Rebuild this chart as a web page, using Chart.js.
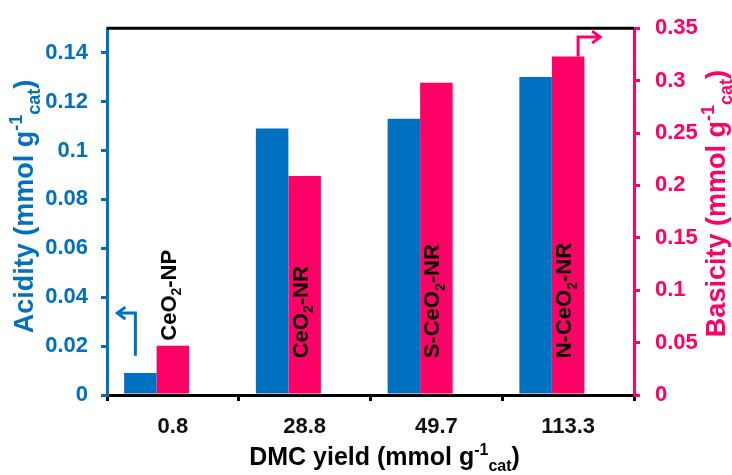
<!DOCTYPE html>
<html>
<head>
<meta charset="utf-8">
<script src="https://cdn.jsdelivr.net/npm/chart.js@4.4.1/dist/chart.umd.min.js"></script>
<style>
  html, body { margin: 0; padding: 0; background: #fff; }
  #wrap { width: 732px; height: 475px; }
</style>
</head>
<body>
<div id="wrap"><canvas id="c" width="732" height="475"></canvas></div>
<script>
const categories = ['0.8', '28.8', '49.7', '113.3'];
const samples = ['CeO|2|-NP', 'CeO|2|-NR', 'S-CeO|2|-NR', 'N-CeO|2|-NR'];
const acidity = [0.009, 0.109, 0.113, 0.130];
const basicity = [0.047, 0.209, 0.298, 0.323];
const acidTicks = [0, 0.02, 0.04, 0.06, 0.08, 0.1, 0.12, 0.14];
const baseTicks = [0, 0.05, 0.1, 0.15, 0.2, 0.25, 0.3, 0.35];

const BLUE = '#0070C0';
const PINK = '#FF0066';
const FONT = 'Liberation Sans, Arial, sans-serif';

// measure rich text made of [text, kind] parts, kind '' | 'sup' | 'sub'
function measureRich(ctx, parts, size) {
  const small = Math.round(size * 0.65);
  ctx.save();
  const widths = parts.map(([t, k]) => {
    ctx.font = `bold ${k ? small : size}px ${FONT}`;
    return ctx.measureText(t).width;
  });
  ctx.restore();
  return widths;
}

function paintRich(ctx, parts, widths, startX, size) {
  const small = Math.round(size * 0.65);
  let cx = startX;
  parts.forEach(([t, k], i) => {
    ctx.font = `bold ${k ? small : size}px ${FONT}`;
    const dy = k === 'sup' ? -size * 0.42 : k === 'sub' ? size * 0.25 : 0;
    ctx.fillText(t, cx, dy);
    cx += widths[i];
  });
}

// vertical text, reading bottom to top
function drawRich(ctx, parts, x, y, size, color, align) {
  const widths = measureRich(ctx, parts, size);
  const total = widths.reduce((a, b) => a + b, 0);
  ctx.save();
  ctx.fillStyle = color;
  ctx.textBaseline = 'alphabetic';
  ctx.textAlign = 'left';
  ctx.translate(x, y);
  ctx.rotate(-Math.PI / 2);
  paintRich(ctx, parts, widths, align === 'start' ? 0 : -total / 2, size);
  ctx.restore();
  return total;
}

function drawRichFlat(ctx, parts, x, y, size, color) {
  const widths = measureRich(ctx, parts, size);
  const total = widths.reduce((a, b) => a + b, 0);
  ctx.save();
  ctx.fillStyle = color;
  ctx.textBaseline = 'alphabetic';
  ctx.textAlign = 'left';
  ctx.translate(x, y);
  paintRich(ctx, parts, widths, -total / 2, size);
  ctx.restore();
}

function sampleParts(s) {
  const [a, b, c] = s.split('|');
  return [[a, ''], [b, 'sub'], [c, '']];
}

function unitParts(name) {
  return [[name + ' (mmol g', ''], ['-1', 'sup'], ['cat', 'sub'], [')', '']];
}

function arrow(ctx, pts, color) {
  ctx.save();
  ctx.strokeStyle = color;
  ctx.lineWidth = 3;
  ctx.beginPath();
  ctx.moveTo(pts[0][0], pts[0][1]);
  pts.slice(1).forEach(p => ctx.lineTo(p[0], p[1]));
  ctx.stroke();
  const [ax, ay] = pts[pts.length - 1];
  const dir = Math.sign(ax - pts[pts.length - 2][0]);
  ctx.beginPath();
  ctx.moveTo(ax - dir * 8, ay - 6);
  ctx.lineTo(ax, ay);
  ctx.lineTo(ax - dir * 8, ay + 6);
  ctx.stroke();
  ctx.restore();
}

const decorations = {
  id: 'decorations',
  afterDraw(chart) {
    const ctx = chart.ctx;
    const { left, right, top, bottom } = chart.chartArea;
    const y = chart.scales.y, y1 = chart.scales.y1;
    const blueBars = chart.getDatasetMeta(0).data;
    const pinkBars = chart.getDatasetMeta(1).data;

    // top frame line
    ctx.save();
    ctx.strokeStyle = '#000';
    ctx.lineWidth = 3;
    ctx.beginPath();
    ctx.moveTo(left, top);
    ctx.lineTo(right, top);
    ctx.stroke();
    ctx.restore();

    // sample names: inside the pink bar when it fits, otherwise just above it
    pinkBars.forEach((bar, i) => {
      const parts = sampleParts(samples[i]);
      const len = measureRich(ctx, parts, 22).reduce((a, b) => a + b, 0);
      const inside = y1.getPixelForValue(0.035);
      const start = bar.y < inside - len - 8 ? inside : bar.y - 5;
      drawRich(ctx, parts, bar.x + 3, start, 22, '#000', 'start');
    });

    // axis arrows
    const b0 = blueBars[0];
    arrow(ctx, [[b0.x - 5, y.getPixelForValue(0.016)], [b0.x - 5, y.getPixelForValue(0.0335)], [b0.x - 23, y.getPixelForValue(0.0335)]], BLUE);
    const p3 = pinkBars[3];
    arrow(ctx, [[p3.x + 10, p3.y], [p3.x + 10, y1.getPixelForValue(0.3415)], [p3.x + 32, y1.getPixelForValue(0.3415)]], PINK);

    // axis titles
    const midY = (top + bottom) / 2;
    drawRich(ctx, unitParts('Acidity'), left - 74, midY - 5, 27, BLUE, 'center');
    drawRich(ctx, unitParts('Basicity'), right + 91, midY - 8, 27, PINK, 'center');
    drawRichFlat(ctx, unitParts('DMC yield'), (left + right) / 2 + 14, bottom + 70, 25, '#000');
  }
};

new Chart(document.getElementById('c'), {
  type: 'bar',
  data: {
    labels: categories,
    datasets: [
      { label: 'Acidity', data: acidity, yAxisID: 'y', backgroundColor: BLUE },
      { label: 'Basicity', data: basicity, yAxisID: 'y1', backgroundColor: PINK },
      { label: '', data: categories.map(() => null), yAxisID: 'y', backgroundColor: 'rgba(0,0,0,0)' }
    ]
  },
  options: {
    responsive: false,
    animation: false,
    categoryPercentage: 0.74,
    barPercentage: 1,
    layout: { padding: { top: 24, left: 0, right: 0, bottom: 0 } },
    plugins: { legend: { display: false }, tooltip: { enabled: false } },
    scales: {
      x: {
        offset: true,
        grid: { offset: true, drawOnChartArea: false, color: '#000', lineWidth: 3, tickLength: 6 },
        border: { color: '#000', width: 3 },
        ticks: { color: '#111', font: { family: FONT, size: 22, weight: 'bold' }, padding: 13 },
        afterFit: s => { s.height = 80; }
      },
      y: {
        position: 'left',
        min: 0,
        max: 0.15,
        afterBuildTicks: s => { s.ticks = acidTicks.map(v => ({ value: v })); },
        grid: { drawOnChartArea: false, color: BLUE, lineWidth: 3, tickLength: 6 },
        border: { color: BLUE, width: 3 },
        ticks: { color: BLUE, font: { family: FONT, size: 22, weight: 'bold' }, padding: 13, callback: v => String(v) },
        afterFit: s => { s.width = 107; }
      },
      y1: {
        position: 'right',
        min: 0,
        max: 0.35,
        afterBuildTicks: s => { s.ticks = baseTicks.map(v => ({ value: v })); },
        grid: { drawOnChartArea: false, color: PINK, lineWidth: 3, tickLength: 6 },
        border: { color: PINK, width: 3 },
        ticks: { color: PINK, font: { family: FONT, size: 22, weight: 'bold' }, padding: 15, callback: v => String(v) },
        afterFit: s => { s.width = 98; }
      }
    }
  },
  plugins: [decorations]
});
</script>
</body>
</html>
